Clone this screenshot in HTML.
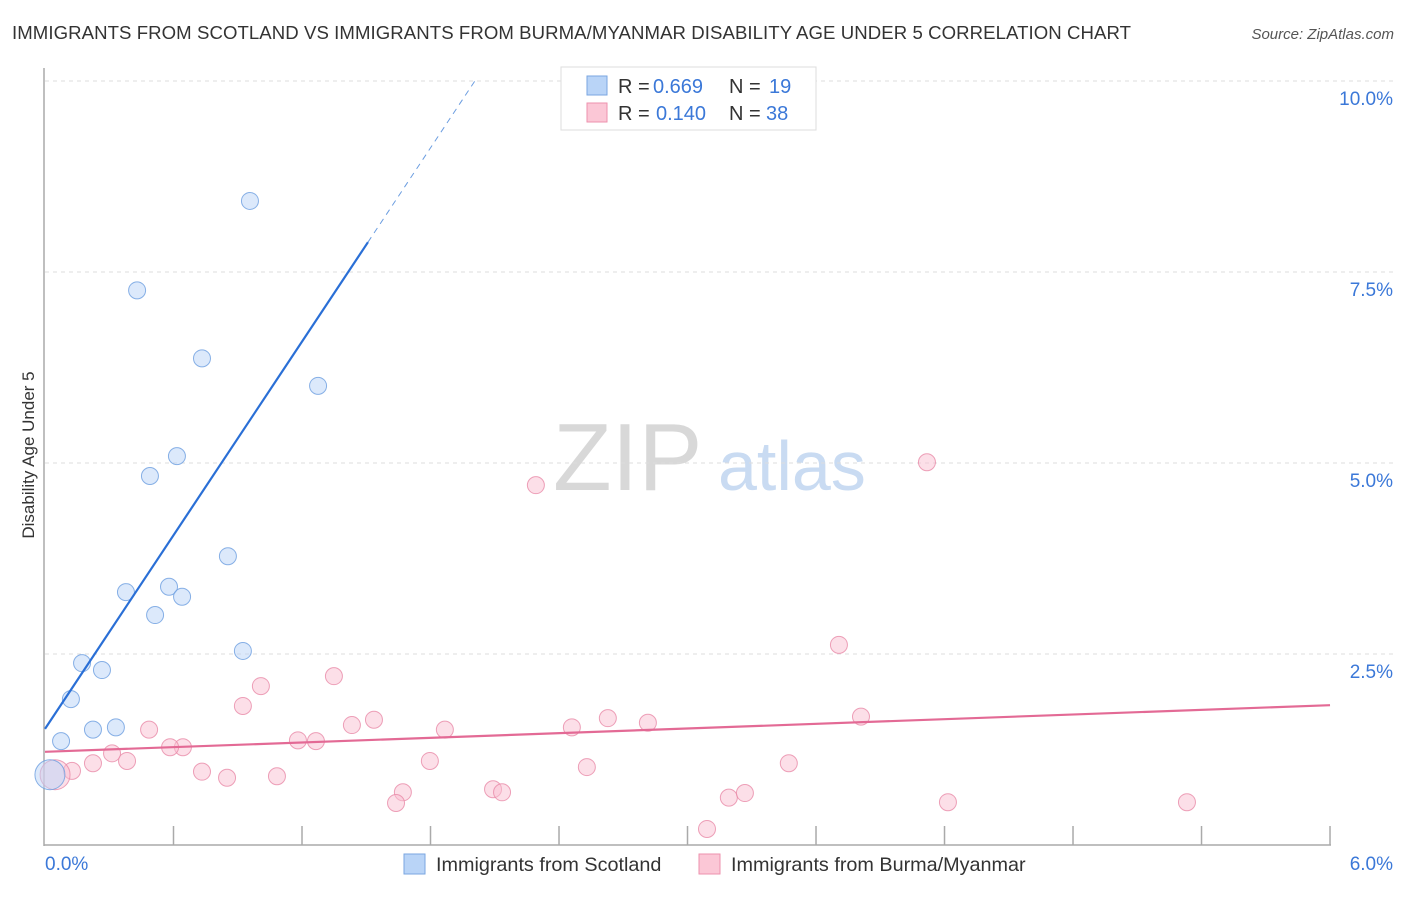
<!DOCTYPE html>
<html><head><meta charset="utf-8"><style>
body{margin:0;background:#fff;font-family:"Liberation Sans",sans-serif}
svg text{font-family:"Liberation Sans",sans-serif}
</style></head><body>
<svg id="c" width="1406" height="892">
<text x="12" y="39" font-size="18.6" fill="#333" textLength="1119">IMMIGRANTS FROM SCOTLAND VS IMMIGRANTS FROM BURMA/MYANMAR DISABILITY AGE UNDER 5 CORRELATION CHART</text>
<text x="1394" y="39" font-size="15" fill="#555" font-style="italic" text-anchor="end">Source: ZipAtlas.com</text>
<text x="34" y="455" font-size="17" fill="#333" text-anchor="middle" transform="rotate(-90 34 455)">Disability Age Under 5</text>
<text x="553" y="490" font-size="96" fill="#d8d8d8" font-family="Liberation Serif">ZIP</text>
<text x="718" y="490" font-size="70" fill="#c9dbf2">atlas</text>
<g id="grid"></g><g id="marks"></g>
<g>
<rect x="561" y="67" width="255" height="63" fill="#fff" stroke="#ddd"/>
<rect x="587" y="76" width="20" height="19" fill="#b9d4f7" stroke="#7aa6e0"/>
<rect x="587" y="103" width="20" height="19" fill="#fbc7d6" stroke="#ee92ae"/>
<text x="618" y="93" font-size="20" fill="#333">R =</text>
<text x="653" y="93" font-size="20" fill="#3b78d8">0.669</text>
<text x="729" y="93" font-size="20" fill="#333">N =</text>
<text x="769" y="93" font-size="20" fill="#3b78d8">19</text>
<text x="618" y="120" font-size="20" fill="#333">R =</text>
<text x="656" y="120" font-size="20" fill="#3b78d8">0.140</text>
<text x="729" y="120" font-size="20" fill="#333">N =</text>
<text x="766" y="120" font-size="20" fill="#3b78d8">38</text>
</g>
<g>
<rect x="404" y="854" width="21" height="20" fill="#b9d4f7" stroke="#7aa6e0"/>
<text x="436" y="871" font-size="19.8" fill="#333">Immigrants from Scotland</text>
<rect x="699" y="854" width="21" height="20" fill="#fbc7d6" stroke="#ee92ae"/>
<text x="731" y="871" font-size="19.8" fill="#333">Immigrants from Burma/Myanmar</text>
</g>
</svg>
<script>
const yTicks=[2.5,5.0,7.5,10.0];
const xTickLabels=["0.0%","6.0%"];
const blueX=[0.957,0.430,0.733,1.275,0.616,0.490,0.854,0.378,0.579,0.640,0.514,0.924,0.173,0.266,0.121,0.331,0.224,0.075,0.023];
const blueY=[8.43,7.26,6.37,6.01,5.09,4.83,3.78,3.31,3.38,3.25,3.01,2.54,2.38,2.29,1.91,1.54,1.51,1.36,0.92];
const pinkX=[4.118,2.292,3.707,1.349,1.008,0.924,1.433,1.536,0.486,1.867,2.460,2.628,2.815,3.810,1.181,1.265,0.644,0.584,0.313,0.224,0.383,0.126,0.047,0.733,0.850,1.083,1.797,2.530,3.473,1.671,1.639,2.092,2.134,3.193,3.268,4.216,5.332,3.091];
const pinkY=[5.01,4.71,2.62,2.21,2.08,1.82,1.57,1.64,1.51,1.51,1.54,1.66,1.60,1.68,1.37,1.36,1.28,1.28,1.20,1.07,1.10,0.97,0.92,0.96,0.88,0.90,1.10,1.02,1.07,0.69,0.55,0.73,0.69,0.62,0.68,0.56,0.56,0.21];
const blueTrend=[[0,1.52],[1.508,7.89]], blueDash=[[1.508,7.89],[2.007,10.0]];
const pinkTrend=[[0,1.22],[6,1.83]];
const X=v=>45+v*214.17, Y=v=>845-v*76.4;
const NS="http://www.w3.org/2000/svg";
function mk(t,a,p){const e=document.createElementNS(NS,t);for(const k in a)e.setAttribute(k,a[k]);p.appendChild(e);return e;}
const g=document.getElementById('grid'), m=document.getElementById('marks');
let ax=mk('line',{x1:44,y1:68,x2:44,y2:846,stroke:'#aaa','stroke-width':1.5},g);

let bx=mk('line',{x1:44,y1:845,x2:1331,y2:845,stroke:'#aaa','stroke-width':1.5},g);

yTicks.forEach(t=>{
 let l=mk('line',{x1:45,x2:1393,y1:Y(t),y2:Y(t),stroke:'#ddd','stroke-dasharray':'4 4'},g);
 
 let tx=mk('text',{x:1393,y:Y(t)+24,'font-size':19,fill:'#3b78d8','text-anchor':'end'},g);
 tx.textContent=t.toFixed(1)+'%';
 
});
for(let i=1;i<=10;i++){let v=i*0.6;let l=mk('line',{x1:X(v),x2:X(v),y1:826,y2:845,stroke:'#aaa','stroke-width':1.5},g);
 }
let t0=mk('text',{x:45,y:870,'font-size':19,fill:'#3b78d8'},g);t0.textContent=xTickLabels[0];

let t1=mk('text',{x:1393,y:870,'font-size':19,fill:'#3b78d8','text-anchor':'end'},g);t1.textContent=xTickLabels[1];

function pts(xs,ys,fill,stroke,name){xs.forEach((x,i)=>{const big=x<0.05;
 let c=mk('circle',{cx:X(x),cy:Y(ys[i]),r:big?15:8.5,fill:fill,'fill-opacity':0.5,stroke:stroke,'stroke-width':1,'stroke-opacity':0.8},m);
 });}
pts(pinkX,pinkY,'#f9c0d2','#e88aa8','burma-point');
pts(blueX,blueY,'#b9d4f7','#6b9de0','scotland-point');
function ln(p,col,name,dash){let l=mk('line',{x1:X(p[0][0]),y1:Y(p[0][1]),x2:X(p[1][0]),y2:Y(p[1][1]),stroke:col,'stroke-width':dash?1:2.2},m);
 if(dash)l.setAttribute('stroke-dasharray','6 5');
 }
ln(blueTrend,'#2a6fd6','scotland-trendline');
ln(blueDash,'#6b9de0','scotland-trendline-extension',true);
ln(pinkTrend,'#e36a95','burma-trendline');
</script>
</body></html>
